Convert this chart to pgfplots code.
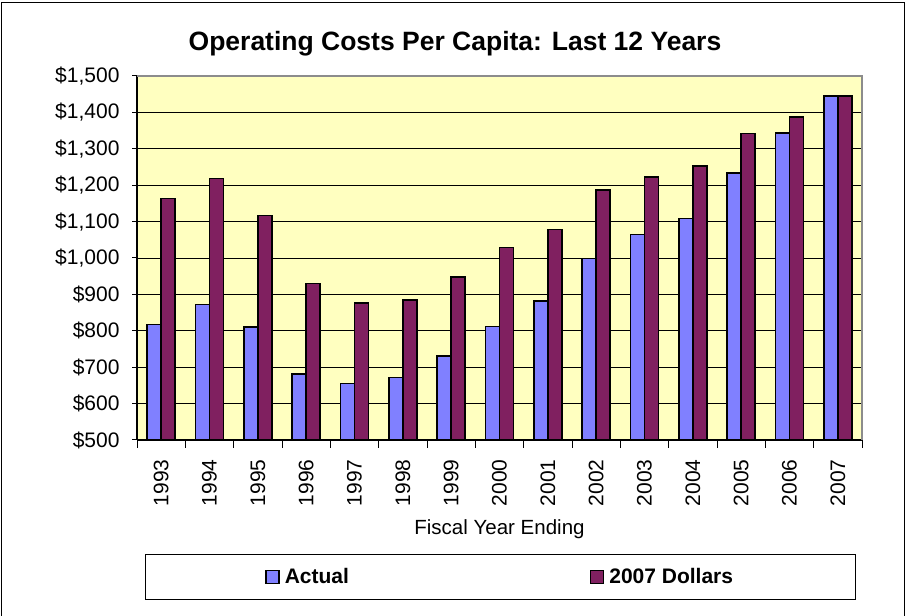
\documentclass[border=0pt]{standalone}
\usepackage{fontspec}
\setmainfont{Liberation Sans}
\usepackage{pgfplots}
\usepackage{pgfplotstable}
\pgfplotsset{compat=1.18}
\definecolor{bgyellow}{HTML}{FFFFC0}
\definecolor{actualblue}{HTML}{8080FF}
\definecolor{plum}{HTML}{802060}
\pgfplotstableread{
x year actual real
0 1993 817 1164
1 1994 872 1218
2 1995 810 1117
3 1996 681 930
4 1997 655 876
5 1998 671 885
6 1999 731 948
7 2000 812 1029
8 2001 882 1078
9 2002 999 1187
10 2003 1065 1223
11 2004 1109 1253
12 2005 1234 1342
13 2006 1344 1387
14 2007 1445 1445
}\datatable
\pgfplotsset{
  mylegend/.style={legend image code/.code={\draw[##1, line width=1.2bp] (0bp,-6.5bp) rectangle (13bp,6.5bp);\path (16bp,0bp);}},
}
\begin{document}
\begin{tikzpicture}[x=1bp,y=1bp]
\useasboundingbox (0,0) rectangle (909,616);
\draw[line width=1bp] (1,-5) -- (1,613) -- (904,613) -- (904,-5);
\begin{axis}[
  at={(137bp,176bp)}, anchor=south west,
  scale only axis, width=725bp, height=364bp,
  xmin=-0.5, xmax=14.5, ymin=500, ymax=1500,
  axis x line*=bottom, axis y line*=left,
  axis line style={line width=1.5bp, black},
  axis background/.style={fill=bgyellow},
  ymajorgrids, grid style={black, line width=0.8bp},
  ytick={500,600,...,1500},
  yticklabels={\$500,\$600,\$700,\$800,\$900,{\$1,000},{\$1,100},{\$1,200},{\$1,300},{\$1,400},{\$1,500}},
  xtick={0,...,14},
  xticklabels={1993,1994,1995,1996,1997,1998,1999,2000,2001,2002,2003,2004,2005,2006,2007},
  tick align=outside,
  major tick length=5bp,
  every major x tick/.append style={draw=none},
  minor xtick={-0.5,0.5,...,14.5},
  minor tick length=8bp,
  tick style={line width=1bp, black},
  xticklabel shift=11bp,
  yticklabel shift=9bp,
  xticklabel style={rotate=90, anchor=east, font=\fontsize{21bp}{24bp}\selectfont},
  yticklabel style={font=\fontsize{21bp}{24bp}\selectfont},
  title={Operating Costs Per Capita: Last 12 Years},
  title style={font=\bfseries\fontsize{26.5bp}{30bp}\selectfont, at={(axis description cs:0.4386,1)}, anchor=center, yshift=26bp},
  xlabel={Fiscal Year Ending},
  xlabel style={font=\fontsize{20.5bp}{24bp}\selectfont, at={(axis description cs:0.5,0)}, anchor=center, yshift=-89bp},
  legend columns=2,
  legend style={at={(axis description cs:0.011,0)}, anchor=north west, yshift=-114bp,
    draw=black, line width=1bp, fill=white, inner xsep=120bp, inner ysep=12bp,
    /tikz/every even column/.append style={column sep=239bp},
    font=\bfseries\fontsize{21bp}{24bp}\selectfont},
  after end axis/.code={\draw[line width=2bp, black!45] (rel axis cs:0,1) -- (rel axis cs:1,1) -- (rel axis cs:1,0);},
]
\addplot[ybar, bar width=0.29, bar shift=-0.145, fill=actualblue, draw=black, line width=1.5bp, mylegend]
  table[x=x, y=actual]{\datatable};
\addlegendentry{Actual}
\addplot[ybar, bar width=0.29, bar shift=0.145, fill=plum, draw=black, line width=1.5bp, mylegend]
  table[x=x, y=real]{\datatable};
\addlegendentry{2007 Dollars}
\end{axis}
\end{tikzpicture}
\end{document}
